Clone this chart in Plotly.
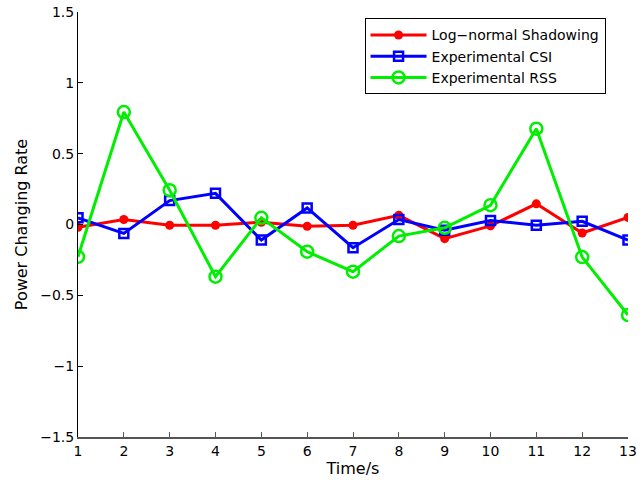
import plotly.graph_objects as go

time_s = list(range(1, 14))
log_normal = [-0.02, 0.035, -0.005, -0.005, 0.016, -0.012, -0.005, 0.065, -0.10, -0.01, 0.146, -0.06, 0.05]
exp_csi = [0.047, -0.063, 0.169, 0.22, -0.11, 0.117, -0.164, 0.035, -0.04, 0.028, -0.005, 0.023, -0.11]
exp_rss = [-0.228, 0.794, 0.242, -0.368, 0.047, -0.192, -0.333, -0.082, -0.023, 0.136, 0.676, -0.23, -0.639]

y_ticks = [-1.5, -1, -0.5, 0, 0.5, 1, 1.5]
y_tick_text = ["\u22121.5", "\u22121", "\u22120.5", "0", "0.5", "1", "1.5"]

font = "DejaVu Sans"
fig = go.Figure()
fig.add_trace(go.Scatter(x=time_s, y=log_normal, mode="lines+markers", name="Log\u2212normal Shadowing",
                         line=dict(color="#ff0000", width=3),
                         marker=dict(symbol="circle", size=9, color="#ff0000")))
fig.add_trace(go.Scatter(x=time_s, y=exp_csi, mode="lines+markers", name="Experimental CSI",
                         line=dict(color="#0000ff", width=3),
                         marker=dict(symbol="square-open", size=9, color="#0000ff", line=dict(width=2.5))))
fig.add_trace(go.Scatter(x=time_s, y=exp_rss, mode="lines+markers", name="Experimental RSS",
                         line=dict(color="#00ee00", width=3),
                         marker=dict(symbol="circle-open", size=12, color="#00ee00", line=dict(width=2.5))))

fig.update_layout(
    width=642, height=483,
    margin=dict(l=78, r=14, t=12, b=46, autoexpand=False),
    paper_bgcolor="white", plot_bgcolor="white",
    font=dict(family=font, size=14, color="black"),
    showlegend=True,
    legend=dict(x=0.521, y=0.985, xanchor="left", yanchor="top",
                bordercolor="black", borderwidth=1, bgcolor="white",
                font=dict(family=font, size=14), tracegroupgap=0,
                itemwidth=56),
    xaxis=dict(range=[1, 13], tickvals=time_s, ticks="inside", ticklen=5,
               tickcolor="#555", showline=True, linecolor="#555", linewidth=1.5,
               showgrid=False, zeroline=False, title=dict(text="Time/s", standoff=4, font=dict(size=16)),
               tickfont=dict(size=14)),
    yaxis=dict(range=[-1.5, 1.5], tickvals=y_ticks, ticktext=y_tick_text, ticks="inside", ticklen=5,
               tickcolor="black", showline=True, linecolor="black", linewidth=1,
               showgrid=False, zeroline=False, title=dict(text="Power Changing Rate", standoff=8, font=dict(size=16)),
               tickfont=dict(size=14)),
)
fig.write_html("out.html", config={"displayModeBar": False},
               post_script="document.body.style.margin='0';document.body.style.padding='0';")
